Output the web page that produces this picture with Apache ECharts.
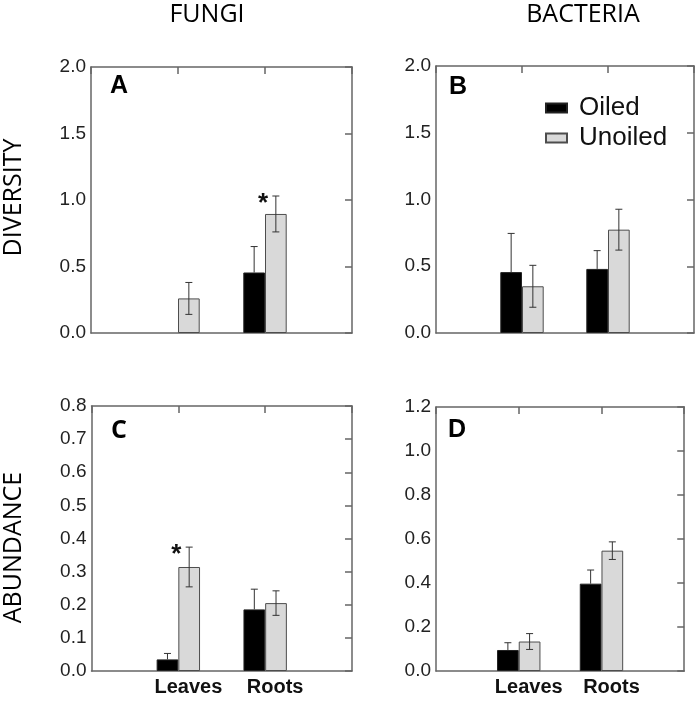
<!DOCTYPE html>
<html>
<head>
<meta charset="utf-8">
<script src="https://cdn.jsdelivr.net/npm/echarts@6/dist/echarts.min.js"></script>
<style>
html,body{margin:0;padding:0;background:#fff;}
#chart{width:700px;height:701px;}
</style>
</head>
<body>
<div id="chart"></div>
<script>
// ---- data ----
const categories = ['Leaves', 'Roots'];
const seriesNames = ['Oiled', 'Unoiled'];

// Panel A: fungi diversity
const fungiDivOiled = [0, 0.455];
const fungiDivOiledErr = [0, 0.195];
const fungiDivUnoiled = [0.26, 0.895];
const fungiDivUnoiledErr = [0.12, 0.135];
// Panel B: bacteria diversity
const bactDivOiled = [0.456, 0.48];
const bactDivOiledErr = [0.29, 0.137];
const bactDivUnoiled = [0.35, 0.774];
const bactDivUnoiledErr = [0.157, 0.153];
// Panel C: fungi abundance
const fungiAbOiled = [0.035, 0.186];
const fungiAbOiledErr = [0.018, 0.061];
const fungiAbUnoiled = [0.314, 0.205];
const fungiAbUnoiledErr = [0.06, 0.037];
// Panel D: bacteria abundance
const bactAbOiled = [0.0955, 0.397];
const bactAbOiledErr = [0.033, 0.062];
const bactAbUnoiled = [0.134, 0.547];
const bactAbUnoiledErr = [0.036, 0.04];

// significance markers: [category index, value]
const starsA = [[1, 1.02]];
const starsC = [[0, 0.37]];

// axis ranges / ticks
const yMaxA = 2.0, yStepA = 0.5;
const yMaxB = 2.0, yStepB = 0.5;
const yMaxC = 0.8, yStepC = 0.1;
const yMaxD = 1.2, yStepD = 0.2;

const columnHeaders = ['FUNGI', 'BACTERIA'];
const rowHeaders = ['DIVERSITY', 'ABUNDANCE'];
const panelLetters = ['A', 'B', 'C', 'D'];

// ---- build ----
const xCats = ['', categories[0], categories[1], ' '];
const panels = [
  {oiled: fungiDivOiled, oErr: fungiDivOiledErr, un: fungiDivUnoiled, uErr: fungiDivUnoiledErr, max: yMaxA, step: yStepA, stars: starsA},
  {oiled: bactDivOiled, oErr: bactDivOiledErr, un: bactDivUnoiled, uErr: bactDivUnoiledErr, max: yMaxB, step: yStepB, stars: []},
  {oiled: fungiAbOiled, oErr: fungiAbOiledErr, un: fungiAbUnoiled, uErr: fungiAbUnoiledErr, max: yMaxC, step: yStepC, stars: starsC},
  {oiled: bactAbOiled, oErr: bactAbOiledErr, un: bactAbUnoiled, uErr: bactAbUnoiledErr, max: yMaxD, step: yStepD, stars: []}
];
const grids = [
  {left: 91, top: 67, width: 261, height: 266},
  {left: 436, top: 66, width: 258, height: 267},
  {left: 91.5, top: 406, width: 260.5, height: 265},
  {left: 436, top: 407, width: 258, height: 264}
];
const letterPos = [[110, 74.5], [449, 75], [111, 419], [448, 418]];

const frame = {show: true, onZero: false, lineStyle: {color: '#666', width: 1.5}};
const tickStyle = {color: '#666', width: 1.5};
const BW = 21.7;

const xAxis = [], yAxis = [], series = [];
panels.forEach((p, i) => {
  xAxis.push({
    gridIndex: i, type: 'category', data: xCats, boundaryGap: false, position: 'bottom',
    axisLine: frame, axisTick: {show: false}, splitLine: {show: false},
    axisLabel: {show: i >= 2, interval: 0, fontFamily: 'Liberation Sans, Arial', fontWeight: 'bold',
      fontSize: 20, color: '#111', margin: 6, padding: [0, 0, 0, 20]}
  });
  xAxis.push({
    gridIndex: i, type: 'category', data: xCats, boundaryGap: false, position: 'top',
    axisLine: frame, axisTick: {show: true, inside: true, length: 7, interval: 0, lineStyle: tickStyle},
    axisLabel: {show: false}, splitLine: {show: false}
  });
  yAxis.push({
    gridIndex: i, type: 'value', min: 0, max: p.max, interval: p.step, position: 'left',
    axisLine: frame, axisTick: {show: false}, splitLine: {show: false},
    axisLabel: {formatter: v => v.toFixed(1), fontFamily: 'Liberation Sans, Arial', fontSize: 19, color: '#222', margin: 5}
  });
  yAxis.push({
    gridIndex: i, type: 'value', min: 0, max: p.max, interval: p.step, position: 'right',
    axisLine: frame, axisTick: {show: true, inside: true, length: 7, lineStyle: tickStyle},
    splitLine: {show: false}, axisLabel: {show: false}
  });
  const xi = 2 * i, yi = 2 * i;
  const barData = vals => vals.map((v, k) => v === 0
    ? {value: [k + 1, v], itemStyle: {borderWidth: 0}}
    : {value: [k + 1, v]});
  series.push({
    name: seriesNames[0], type: 'bar', xAxisIndex: xi, yAxisIndex: yi, barWidth: BW, barGap: '0%', z: 2,
    itemStyle: {color: '#000', borderColor: '#222', borderWidth: 1},
    data: barData(p.oiled)
  });
  series.push({
    name: seriesNames[1], type: 'bar', xAxisIndex: xi, yAxisIndex: yi, barWidth: BW, barGap: '0%', z: 2,
    itemStyle: {color: '#d9d9d9', borderColor: '#4d4d4d', borderWidth: 1},
    data: barData(p.un)
  });
  const errSeries = (vals, errs, off, upperOnly) => ({
    type: 'custom', xAxisIndex: xi, yAxisIndex: yi, z: 5, silent: true,
    data: vals.map((v, k) => [k + 1, v, errs[k]]),
    renderItem: (params, api) => {
      const e = api.value(2);
      if (!e) return null;
      const c = api.value(0), m = api.value(1);
      const x = api.coord([c, m])[0] + off;
      const yT = api.coord([c, m + e])[1];
      const yB = upperOnly ? api.coord([c, m])[1] : api.coord([c, m - e])[1];
      const st = {stroke: '#333', lineWidth: 1};
      const ch = [
        {type: 'line', shape: {x1: x, y1: yT, x2: x, y2: yB}, style: st},
        {type: 'line', shape: {x1: x - 3.5, y1: yT, x2: x + 3.5, y2: yT}, style: st}
      ];
      if (!upperOnly) ch.push({type: 'line', shape: {x1: x - 3.5, y1: yB, x2: x + 3.5, y2: yB}, style: st});
      return {type: 'group', children: ch};
    }
  });
  series.push(errSeries(p.oiled, p.oErr, -BW / 2, true));
  series.push(errSeries(p.un, p.uErr, BW / 2, false));
  if (p.stars.length) {
    series.push({
      type: 'custom', xAxisIndex: xi, yAxisIndex: yi, z: 6, silent: true,
      data: p.stars.map(s => [s[0] + 1, s[1]]),
      renderItem: (params, api) => {
        const pt = api.coord([api.value(0), api.value(1)]);
        return {type: 'text', x: pt[0] - 2, y: pt[1] + 6,
          style: {text: '*', fontFamily: 'Liberation Sans, Arial', fontWeight: 'bold', fontSize: 26,
            fill: '#111', textAlign: 'center', textVerticalAlign: 'middle'}};
      }
    });
  }
});

const graphic = [];
const headFont = 'Open Sans, Noto Sans, sans-serif';
const headStyle = (t) => ({text: t, font: '25px ' + headFont, fill: '#000', textAlign: 'center', textVerticalAlign: 'middle'});
graphic.push({type: 'text', x: 207, y: 14.5, style: headStyle(columnHeaders[0])});
graphic.push({type: 'text', x: 583, y: 14.5, style: headStyle(columnHeaders[1])});
graphic.push({type: 'text', x: 13.5, y: 197.5, rotation: Math.PI / 2, style: headStyle(rowHeaders[0])});
graphic.push({type: 'text', x: 13.5, y: 547.5, rotation: Math.PI / 2, style: headStyle(rowHeaders[1])});
panelLetters.forEach((L, i) => {
  graphic.push({type: 'text', x: letterPos[i][0], y: letterPos[i][1] + 12,
    style: {text: L, font: 'bold 25px ' + (L === 'C' ? 'Open Sans, sans-serif' : 'Liberation Sans, Arial'), fill: '#000', textAlign: 'left', textVerticalAlign: 'middle'}});
});

const chart = echarts.init(document.getElementById('chart'), null, {renderer: 'canvas'});
chart.setOption({
  animation: false,
  backgroundColor: '#fff',
  grid: grids,
  xAxis: xAxis,
  yAxis: yAxis,
  legend: {
    data: seriesNames, orient: 'vertical', left: 540, top: 90, icon: 'rect',
    itemWidth: 21, itemHeight: 9, itemGap: 4,
    textStyle: {fontFamily: 'Liberation Sans, Arial', fontSize: 26, color: '#111', padding: [0, 0, 0, 7]}
  },
  graphic: graphic,
  series: series
});
</script>
</body>
</html>
